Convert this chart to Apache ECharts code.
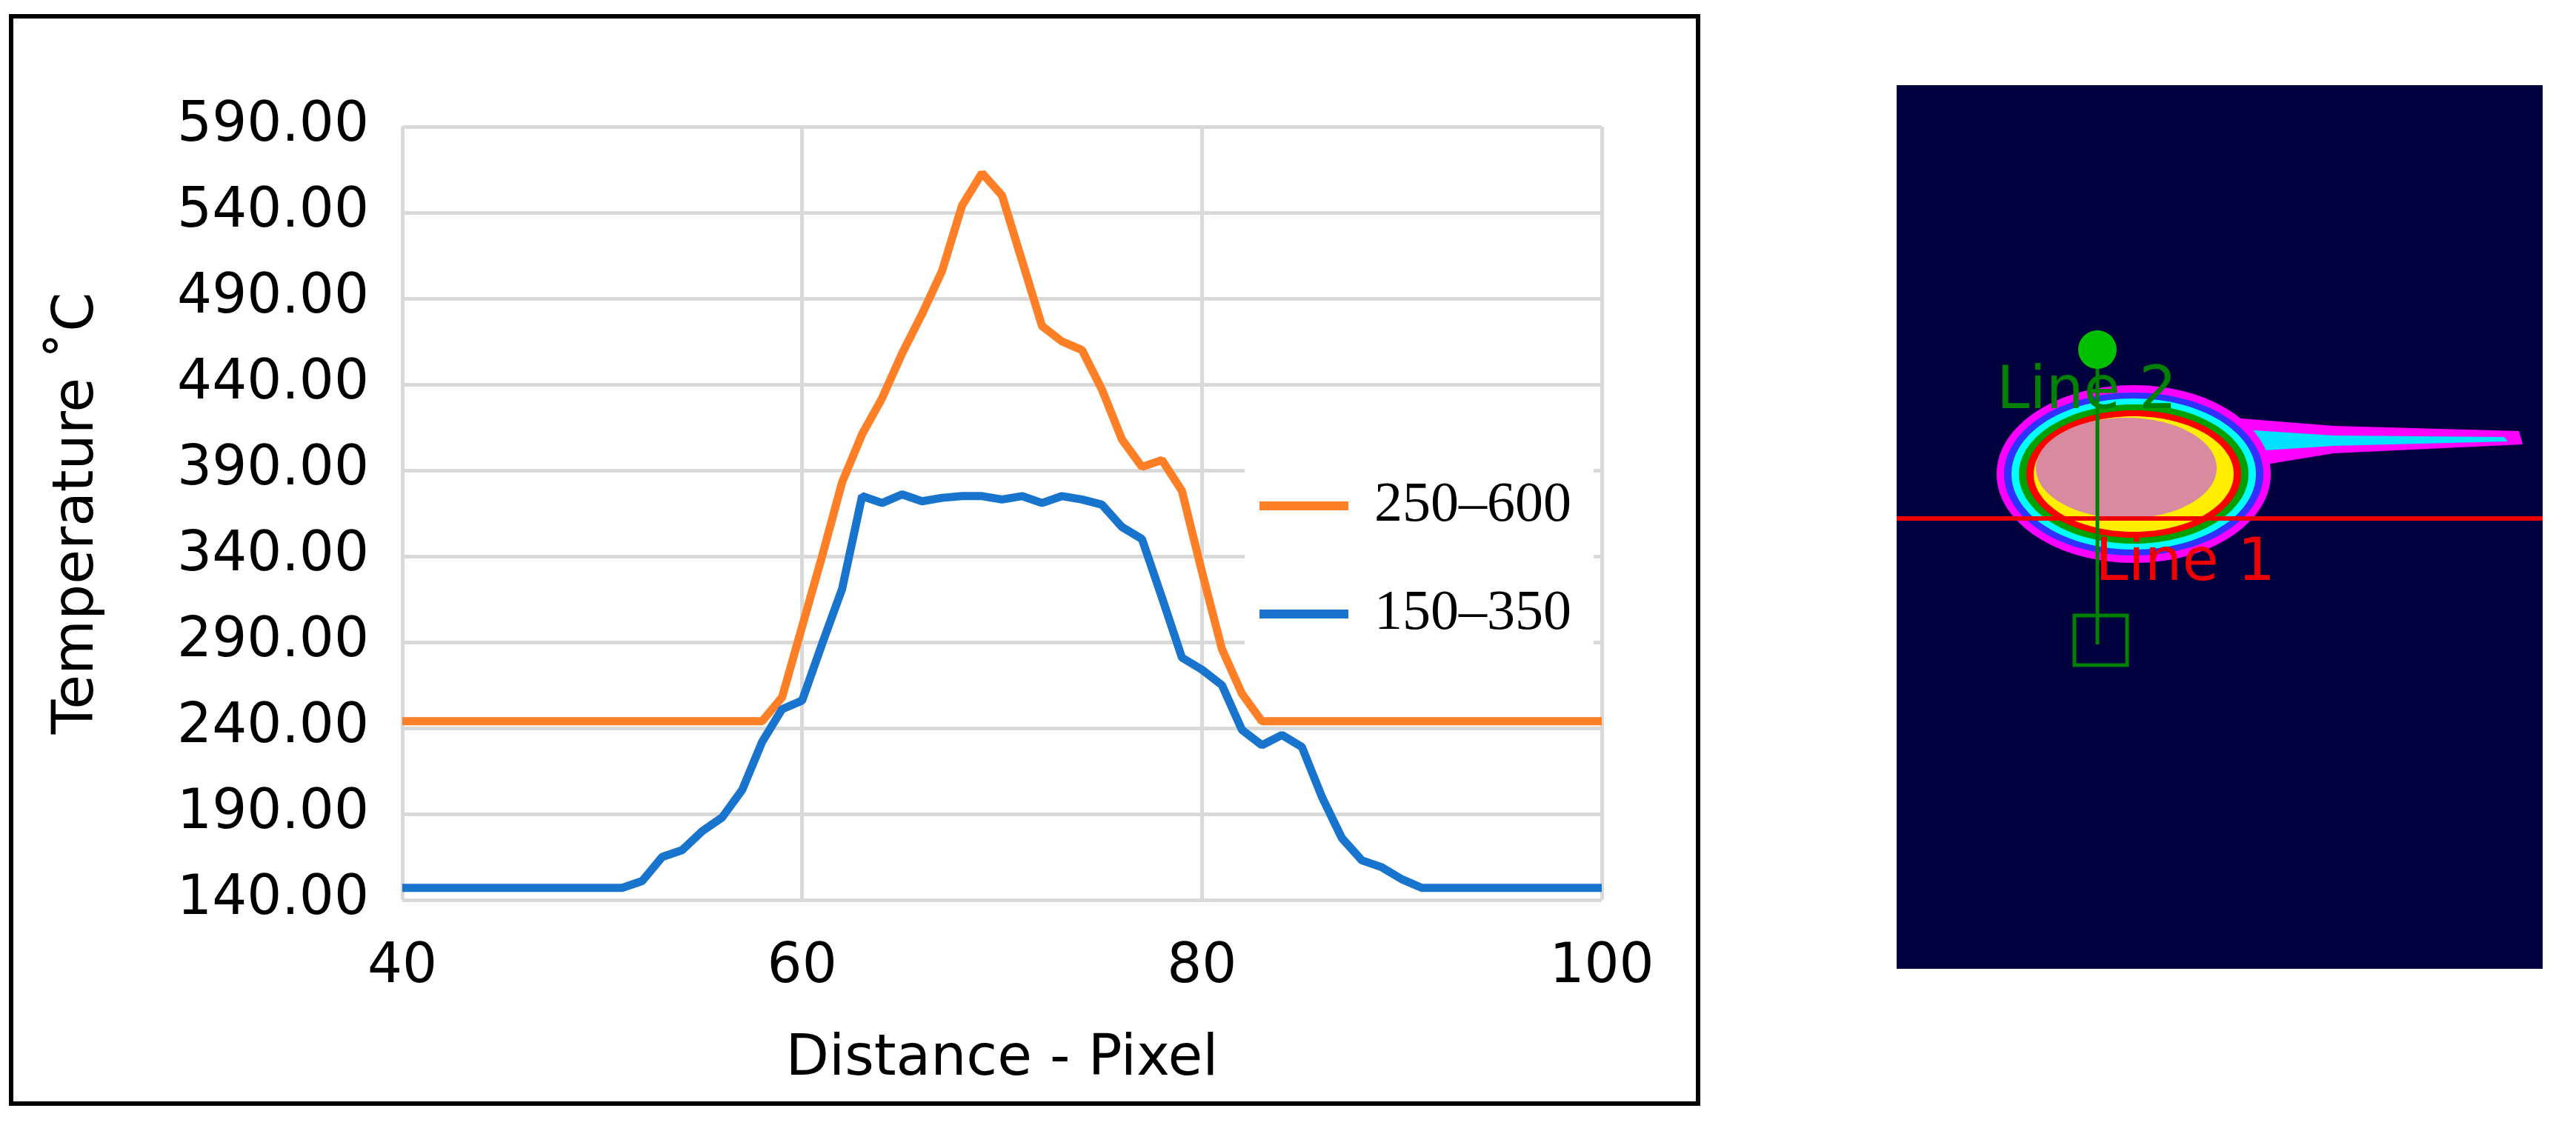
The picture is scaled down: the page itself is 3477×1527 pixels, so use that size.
<!DOCTYPE html>
<html><head><meta charset="utf-8">
<script src="https://cdn.jsdelivr.net/npm/echarts@6/dist/echarts.min.js"></script>
<style>html,body{margin:0;padding:0;background:#fff}#c{width:3477px;height:1527px}</style>
</head><body><div id="c"></div>
<script>
const xValues = [40,41,42,43,44,45,46,47,48,49,50,51,52,53,54,55,56,57,58,59,60,61,62,63,64,65,66,67,68,69,70,71,72,73,74,75,76,77,78,79,80,81,82,83,84,85,86,87,88,89,90,91,92,93,94,95,96,97,98,99,100];
const orange = [244,244,244,244,244,244,244,244,244,244,244,244,244,244,244,244,244,244,244,258,299,340,383,411,432,458,481,506,544,563,550,512,474,465,460,437,408,392,396,378,331,286,260,244,244,244,244,244,244,244,244,244,244,244,244,244,244,244,244,244,244];
const blue = [147,147,147,147,147,147,147,147,147,147,147,147,151,165,169,180,188,204,232,251,256,289,321,375,371,376,372,374,375,375,373,375,371,375,373,370,357,350,316,281,274,265,239,230,236,229,200,176,163,159,152,147,147,147,147,147,147,147,147,147,147];
const yTicks = {min:140, max:590, step:50};
const xTicks = {min:40, max:100, step:20};
const seriesNames = ['250–600','150–350'];

const chart = echarts.init(document.getElementById('c'));
const pair = a => xValues.map((x,i)=>[x,a[i]]);
const serif = '"Liberation Serif","DejaVu Serif",serif';
const sans = '"DejaVu Sans","Noto Sans",sans-serif';
const grey = '#d9d9d9';
chart.setOption({
  animation:false,
  backgroundColor:'#fff',
  grid:{left:543,right:1315,top:171,bottom:312},
  xAxis:{type:'value',min:xTicks.min,max:xTicks.max,interval:xTicks.step,
    name:'Distance - Pixel',nameLocation:'middle',nameGap:178,
    nameTextStyle:{fontFamily:sans,fontSize:76,color:'#000'},
    axisLine:{show:false},axisTick:{show:false},
    axisLabel:{fontFamily:sans,fontSize:74,color:'#000',margin:55},
    splitLine:{lineStyle:{color:grey,width:5}}},
  yAxis:{type:'value',min:yTicks.min,max:yTicks.max,interval:yTicks.step,
    name:'Temperature ˚C',nameLocation:'middle',nameGap:400,
    nameTextStyle:{fontFamily:sans,fontSize:76,color:'#000'},
    axisLine:{show:false},axisTick:{show:false},
    axisLabel:{fontFamily:sans,fontSize:74,color:'#000',margin:45,formatter:v=>v.toFixed(2)},
    splitLine:{lineStyle:{color:grey,width:5}}},
  legend:{orient:'vertical',left:1680,top:625,itemGap:70,itemWidth:120,itemHeight:12,
    backgroundColor:'#fff',padding:[20,30,20,20],
    icon:'rect',
    textStyle:{fontFamily:serif,fontSize:76,color:'#000',padding:[0,0,0,30]},
    data:seriesNames},
  series:[
    {name:seriesNames[0],type:'line',data:pair(orange),symbol:'none',lineStyle:{color:'#ff7f27',width:11},itemStyle:{color:'#ff7f27'}},
    {name:seriesNames[1],type:'line',data:pair(blue),symbol:'none',lineStyle:{color:'#1874cd',width:11},itemStyle:{color:'#1874cd'}}
  ],
  graphic:[
    {type:'rect',shape:{x:15,y:22,width:2277,height:1468},style:{fill:'none',stroke:'#000',lineWidth:6},z:100},
    {type:'group',z:50,children:[
      {type:'rect',shape:{x:2560,y:115,width:872,height:1193},style:{fill:'#00003f'}},
      {type:'polygon',shape:{points:[[2900,555],[3150,575],[3400,582],[3405,600],[3150,612],[2980,640],[2900,640]]},style:{fill:'#ff00ff'}},
      {type:'polygon',shape:{points:[[2950,575],[3150,588],[3380,590],[3385,596],[3150,602],[2950,615]]},style:{fill:'#00e0ff'}},
      {type:'ellipse',shape:{cx:2880,cy:640,rx:185,ry:120},style:{fill:'#ff00ff'}},
      {type:'ellipse',shape:{cx:2880,cy:640,rx:175,ry:110},style:{fill:'#3030ff'}},
      {type:'ellipse',shape:{cx:2880,cy:640,rx:165,ry:102},style:{fill:'#00ffff'}},
      {type:'ellipse',shape:{cx:2880,cy:640,rx:155,ry:94},style:{fill:'#00a000'}},
      {type:'ellipse',shape:{cx:2880,cy:640,rx:145,ry:86},style:{fill:'#ff0000'}},
      {type:'ellipse',shape:{cx:2880,cy:640,rx:135,ry:78},style:{fill:'#ffee00'}},
      {type:'ellipse',shape:{cx:2870,cy:632,rx:122,ry:68},style:{fill:'#d88aa0'}},
      {type:'line',shape:{x1:2560,y1:700,x2:3432,y2:700},style:{stroke:'#ee0000',lineWidth:6}},
      {type:'line',shape:{x1:2831,y1:472,x2:2831,y2:870},style:{stroke:'#008000',lineWidth:5}},
      {type:'circle',shape:{cx:2831,cy:472,r:26},style:{fill:'#00c000'}},
      {type:'rect',shape:{x:2800,y:831,width:71,height:67},style:{fill:'none',stroke:'#008000',lineWidth:5}},
      {type:'text',style:{x:2695,y:490,text:'Line 2',font:'80px "DejaVu Sans"',fill:'#008000'}},
      {type:'text',style:{x:2828,y:722,text:'Line 1',font:'80px "DejaVu Sans"',fill:'#ee0000'}}
    ]}
  ]
});
</script></body></html>
